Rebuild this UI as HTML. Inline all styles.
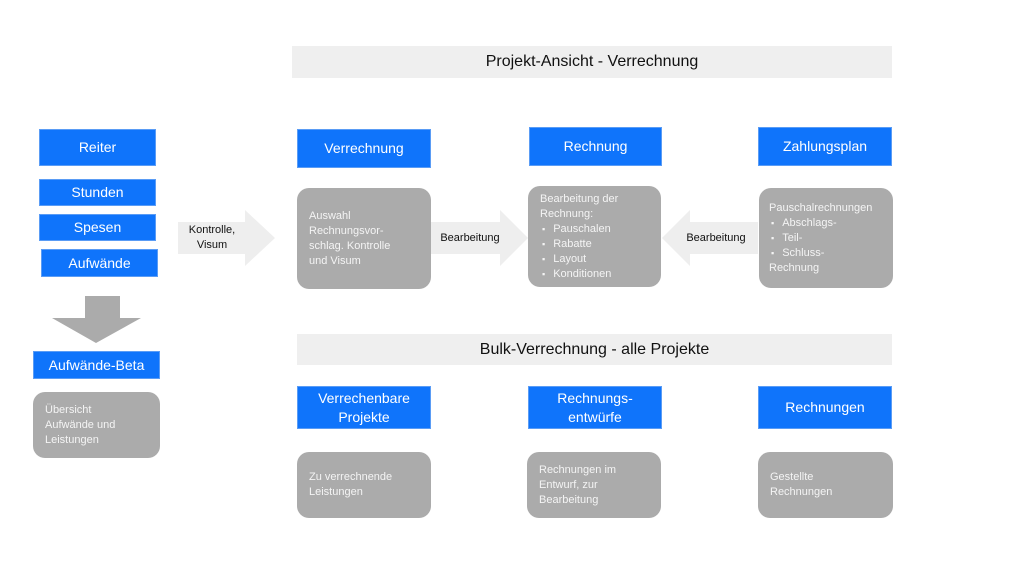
<!DOCTYPE html>
<html><head><meta charset="utf-8"><style>
body{margin:0;width:1024px;height:576px;background:#fff;position:relative;overflow:hidden;font-family:"Liberation Sans",sans-serif}
.a{position:absolute;box-sizing:border-box}
.b{background:#0f74fb;color:#fff;font-size:14px;display:flex;align-items:center;justify-content:center;text-align:center;line-height:19px;border:1px solid #5a9cf5}
.g{background:#ababab;color:#f4f4f4;font-size:11px;line-height:15px;border-radius:12px;padding:0 12px;display:flex;flex-direction:column;justify-content:center}
.t{background:#efefef;color:#111;font-size:16px;display:flex;align-items:center;justify-content:center}
.g ul{margin:0;padding:0;list-style:none}
.g li:before{content:"\25AA";margin:0 8px 0 2px;font-size:9px}
svg{position:absolute;left:0;top:0}
.l{position:absolute;font-size:11px;color:#111;text-align:center;line-height:15px}
</style></head><body>
<svg width="1024" height="576">
<polygon points="178,222 245,222 245,210 275,238 245,266 245,254 178,254" fill="#eeeeee"/>
<polygon points="431,222 500,222 500,210 528,238 500,266 500,254 431,254" fill="#eeeeee"/>
<polygon points="758,222 690,222 690,210 662,238 690,266 690,254 758,254" fill="#eeeeee"/>
<polygon points="85,296 120,296 120,318 141,318 96,343 52,318 85,318" fill="#ababab"/>
</svg>
<div class="a t" style="left:292px;top:46px;width:600px;height:32px">Projekt-Ansicht - Verrechnung</div>
<div class="a t" style="left:297px;top:334px;width:595px;height:31px">Bulk-Verrechnung - alle Projekte</div>
<div class="a b" style="left:39px;top:129px;width:117px;height:37px">Reiter</div>
<div class="a b" style="left:39px;top:179px;width:117px;height:27px">Stunden</div>
<div class="a b" style="left:39px;top:214px;width:117px;height:27px">Spesen</div>
<div class="a b" style="left:41px;top:249px;width:117px;height:28px">Aufwände</div>
<div class="a b" style="left:33px;top:351px;width:127px;height:28px">Aufwände-Beta</div>
<div class="a g" style="left:33px;top:392px;width:127px;height:66px">Übersicht<br>Aufwände und<br>Leistungen</div>
<div class="l" style="left:180px;top:223px;width:64px">Kontrolle,<br>Visum</div>
<div class="l" style="left:430px;top:231px;width:80px">Bearbeitung</div>
<div class="l" style="left:676px;top:231px;width:80px">Bearbeitung</div>
<div class="a b" style="left:297px;top:129px;width:134px;height:39px">Verrechnung</div>
<div class="a b" style="left:529px;top:127px;width:133px;height:39px">Rechnung</div>
<div class="a b" style="left:758px;top:127px;width:134px;height:39px">Zahlungsplan</div>
<div class="a g" style="left:297px;top:188px;width:134px;height:101px">Auswahl<br>Rechnungsvor-<br>schlag. Kontrolle<br>und Visum</div>
<div class="a g" style="left:528px;top:186px;width:133px;height:101px">Bearbeitung der<br>Rechnung:<ul><li>Pauschalen</li><li>Rabatte</li><li>Layout</li><li>Konditionen</li></ul></div>
<div class="a g" style="left:759px;top:188px;width:134px;height:100px;padding:0 10px">Pauschalrechnungen<ul><li>Abschlags-</li><li>Teil-</li><li>Schluss-</li></ul>Rechnung</div>
<div class="a b" style="left:297px;top:386px;width:134px;height:43px">Verrechenbare<br>Projekte</div>
<div class="a b" style="left:528px;top:386px;width:134px;height:43px">Rechnungs-<br>entwürfe</div>
<div class="a b" style="left:758px;top:386px;width:134px;height:43px">Rechnungen</div>
<div class="a g" style="left:297px;top:452px;width:134px;height:66px">Zu verrechnende<br>Leistungen</div>
<div class="a g" style="left:527px;top:452px;width:134px;height:66px">Rechnungen im<br>Entwurf, zur<br>Bearbeitung</div>
<div class="a g" style="left:758px;top:452px;width:135px;height:66px">Gestellte<br>Rechnungen</div>
</body></html>
